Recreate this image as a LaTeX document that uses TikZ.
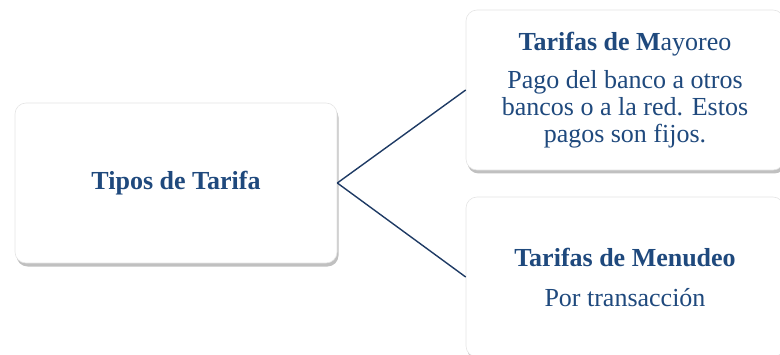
\documentclass[tikz,border=0pt]{standalone}
\usepackage{fontspec}
\setmainfont{Liberation Serif}
\usetikzlibrary{shadows}
\definecolor{azul}{RGB}{31,73,125}
\definecolor{linea}{RGB}{30,58,100}
\tikzset{
	caja/.style={rectangle, rounded corners=11pt, fill=white, draw=black!10, line width=0.6pt,
		minimum width=#1, minimum height=160pt,
		inner sep=0pt, align=center, text=azul, font=\fontsize{26}{27}\selectfont,
		drop shadow={shadow xshift=1.5pt, shadow yshift=-3.5pt, opacity=0.45, fill=black!55}},
	caja/.default=322pt,
	conector/.style={draw=linea, line width=1.4pt}
}
\begin{document}
\begin{tikzpicture}[x=1pt,y=1pt]
			\useasboundingbox (0,0) rectangle (780,354);
			\clip (0,0) rectangle (780,354);
			%caja izquierda
			\node[caja] (tipos) at (176,171) {\textbf{Tipos de Tarifa}};
			%cajas derecha
			\node[caja=318pt] (mayoreo) at (625,264) {\textbf{Tarifas de M}ayoreo\\[11pt]
				Pago del banco a otros\\bancos o a la red. Estos\\pagos son fijos.};
			\node[caja=318pt] (menudeo) at (625,77) {\textbf{Tarifas de Menudeo}\\[13pt]Por transacción};
			%lineas
			\draw[conector] (tipos.east) -- (mayoreo.west);
			\draw[conector] (tipos.east) -- (menudeo.west);
		\end{tikzpicture}
\end{document}
